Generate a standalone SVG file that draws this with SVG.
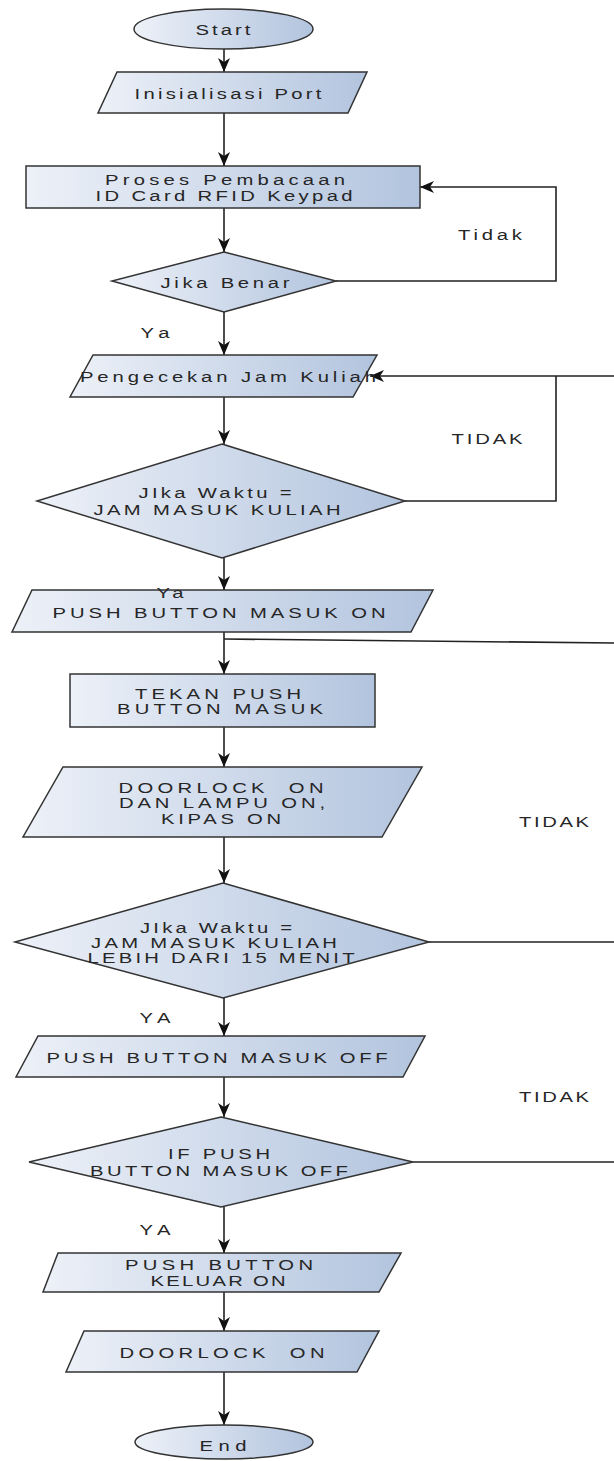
<svg xmlns="http://www.w3.org/2000/svg" width="614" height="1461" viewBox="0 0 614 1461">
<style>
.shape{fill:url(#g);stroke:#333;stroke-width:1.5}
.ln{fill:none;stroke:#222;stroke-width:1.6}
.arr{marker-end:url(#ah)}
text{font-family:"Liberation Sans",Arial,sans-serif;font-size:15px;fill:#262626;text-anchor:middle}
.pre{white-space:pre}
</style>
<defs>
<linearGradient id="g" x1="0" y1="0" x2="1" y2="0">
<stop offset="0" stop-color="#edf1f8"/>
<stop offset="1" stop-color="#b2c4de"/>
</linearGradient>
<marker id="ah" viewBox="0 0 14 12" refX="14" refY="6" markerWidth="14" markerHeight="12" markerUnits="userSpaceOnUse" orient="auto">
<path d="M0,0 L14,6 L0,12 L4,6 Z" fill="#111"/>
</marker>
</defs>
<rect width="614" height="1461" fill="#fff"/>
<g id="connectors">
<path class="ln arr" d="M224,49 V72"/>
<path class="ln arr" d="M224,113 V166"/>
<path class="ln arr" d="M224,208 V252"/>
<path class="ln arr" d="M224,312 V355"/>
<path class="ln arr" d="M224,397 V444"/>
<path class="ln arr" d="M224,558 V590"/>
<path class="ln arr" d="M224,632 V674"/>
<path class="ln arr" d="M224,727 V767"/>
<path class="ln arr" d="M224,837 V883"/>
<path class="ln arr" d="M224,998 V1036"/>
<path class="ln arr" d="M224,1077 V1117"/>
<path class="ln arr" d="M224,1207 V1253"/>
<path class="ln arr" d="M224,1292 V1331"/>
<path class="ln arr" d="M224,1372 V1425"/>
<path class="ln arr" d="M336,281 H556 V187 H420"/>
<path class="ln" d="M405,501 H556 V376"/>
<path class="ln arr" d="M614,376 H370"/>
<path class="ln" d="M224,639 L614,643"/>
<path class="ln" d="M429,942 H614"/>
<path class="ln" d="M413,1162 H614"/>
<text transform="translate(490,240) scale(1.35,1)" textLength="47.4" lengthAdjust="spacing">Tidak</text>
<text transform="translate(155,338) scale(1.35,1)" textLength="21.5" lengthAdjust="spacing">Ya</text>
<text transform="translate(487,444) scale(1.35,1)" textLength="52.6" lengthAdjust="spacing">TIDAK</text>
<text transform="translate(554,827) scale(1.35,1)" textLength="51.9" lengthAdjust="spacing">TIDAK</text>
<text transform="translate(155,1023) scale(1.35,1)" textLength="23" lengthAdjust="spacing">YA</text>
<text transform="translate(554,1102) scale(1.35,1)" textLength="51.9" lengthAdjust="spacing">TIDAK</text>
<text transform="translate(155,1235) scale(1.35,1)" textLength="23" lengthAdjust="spacing">YA</text>
</g>
<g id="start">
<ellipse class="shape" cx="223.5" cy="29" rx="89.5" ry="20"/>
<text transform="translate(223,34.5) scale(1.35,1)" textLength="40.7" lengthAdjust="spacing">Start</text>
</g>
<g id="inisialisasi">
<polygon class="shape" points="117,72 367,72 348,113 98,113"/>
<text transform="translate(228,98.5) scale(1.35,1)" textLength="138.5" lengthAdjust="spacing">Inisialisasi Port</text>
</g>
<g id="proses">
<rect class="shape" x="26" y="166" width="394" height="42"/>
<text transform="translate(225,185) scale(1.35,1)" textLength="177.8" lengthAdjust="spacing">Proses Pembacaan</text>
<text transform="translate(224,200.5) scale(1.35,1)" textLength="190.4" lengthAdjust="spacing">ID Card RFID Keypad</text>
</g>
<g id="jika-benar">
<polygon class="shape" points="224,252 336,281 224,312 112,281"/>
<text transform="translate(225,287.5) scale(1.35,1)" textLength="95.6" lengthAdjust="spacing">Jika Benar</text>
</g>
<g id="pengecekan">
<polygon class="shape" points="93,355 377,355 353,397 70,397"/>
<text transform="translate(228,381.5) scale(1.35,1)" textLength="219.3" lengthAdjust="spacing">Pengecekan Jam Kuliah</text>
</g>
<g id="jika-waktu-1">
<polygon class="shape" points="222,444 405,501 222,558 37,501"/>
<text transform="translate(215,498) scale(1.35,1)" textLength="113.3" lengthAdjust="spacing">JIka Waktu =</text>
<text transform="translate(217,514.5) scale(1.35,1)" textLength="183" lengthAdjust="spacing">JAM MASUK KULIAH</text>
</g>
<g id="push-masuk-on">
<polygon class="shape" points="32,590 433,590 411,632 12,632"/>
<text transform="translate(219,617.5) scale(1.35,1)" textLength="246.7" lengthAdjust="spacing">PUSH BUTTON MASUK ON</text>
<text transform="translate(170,598) scale(1.35,1)" textLength="20" lengthAdjust="spacing">Ya</text>
</g>
<g id="tekan">
<rect class="shape" x="70" y="674" width="305" height="53"/>
<text transform="translate(218,698.5) scale(1.35,1)" textLength="123" lengthAdjust="spacing">TEKAN PUSH</text>
<text transform="translate(220,714) scale(1.35,1)" textLength="152.6" lengthAdjust="spacing">BUTTON MASUK</text>
</g>
<g id="doorlock-lampu">
<polygon class="shape" points="63,767 422,767 382,837 23,837"/>
<text class="pre" transform="translate(221,792.5) scale(1.35,1)" textLength="151.9" lengthAdjust="spacing">DOORLOCK  ON</text>
<text transform="translate(222,808) scale(1.35,1)" textLength="152.6" lengthAdjust="spacing">DAN LAMPU ON,</text>
<text transform="translate(221,823.5) scale(1.35,1)" textLength="88.9" lengthAdjust="spacing">KIPAS ON</text>
</g>
<g id="jika-waktu-2">
<polygon class="shape" points="223,883 429,942 223,998 15,942"/>
<text transform="translate(216,933) scale(1.35,1)" textLength="112.6" lengthAdjust="spacing">JIka Waktu =</text>
<text transform="translate(214,948) scale(1.35,1)" textLength="182.2" lengthAdjust="spacing">JAM MASUK KULIAH</text>
<text transform="translate(221,962.5) scale(1.35,1)" textLength="197.8" lengthAdjust="spacing">LEBIH DARI 15 MENIT</text>
</g>
<g id="push-masuk-off">
<polygon class="shape" points="38,1036 425,1036 403,1077 16,1077"/>
<text transform="translate(217,1062.5) scale(1.35,1)" textLength="252.6" lengthAdjust="spacing">PUSH BUTTON MASUK OFF</text>
</g>
<g id="if-push">
<polygon class="shape" points="221,1117 413,1162 221,1207 29,1162"/>
<text transform="translate(219,1158.5) scale(1.35,1)" textLength="75.6" lengthAdjust="spacing">IF PUSH</text>
<text transform="translate(219,1175.5) scale(1.35,1)" textLength="191.1" lengthAdjust="spacing">BUTTON MASUK OFF</text>
</g>
<g id="push-keluar">
<polygon class="shape" points="58,1253 401,1253 379,1292 43,1292"/>
<text transform="translate(219,1269.5) scale(1.35,1)" textLength="139.3" lengthAdjust="spacing">PUSH BUTTON</text>
<text transform="translate(218,1285.5) scale(1.35,1)" textLength="100" lengthAdjust="spacing">KELUAR ON</text>
</g>
<g id="doorlock-on">
<polygon class="shape" points="84,1331 379,1331 357,1372 66,1372"/>
<text class="pre" transform="translate(222,1357.5) scale(1.35,1)" textLength="151.9" lengthAdjust="spacing">DOORLOCK  ON</text>
</g>
<g id="end">
<ellipse class="shape" cx="224" cy="1442" rx="89" ry="17"/>
<text transform="translate(223,1451) scale(1.35,1)" textLength="34.8" lengthAdjust="spacing">End</text>
</g>
</svg>
